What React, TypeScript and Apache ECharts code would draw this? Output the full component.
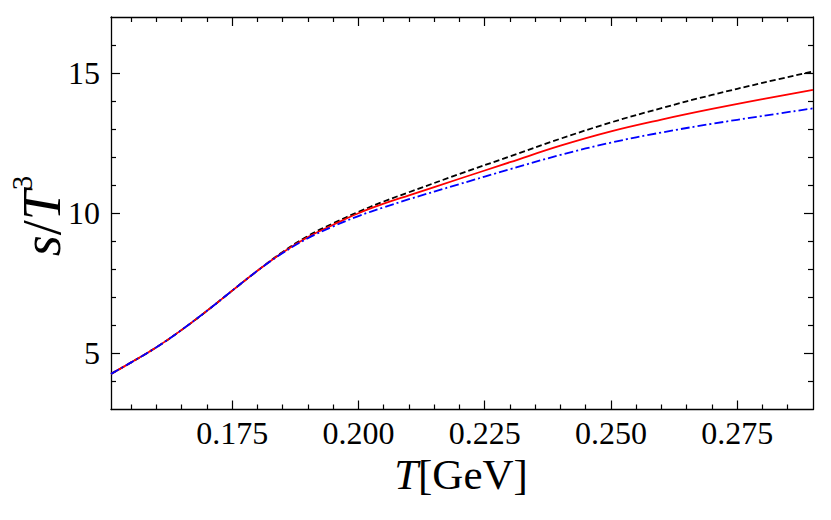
import React, { useEffect, useRef } from "react";
import * as echarts from "echarts";

// Temperature grid (GeV)
const temps = [0.151, 0.155, 0.16, 0.165, 0.17, 0.175, 0.18, 0.185, 0.19, 0.195, 0.2, 0.205, 0.21, 0.22, 0.23, 0.24, 0.25, 0.26, 0.27, 0.28, 0.29];
// s/T^3 curves
const blackDashed = [4.27, 4.68, 5.22, 5.84, 6.52, 7.24, 7.95, 8.62, 9.19, 9.64, 10.05, 10.42, 10.75, 11.4, 12.03, 12.66, 13.24, 13.75, 14.22, 14.65, 15.06];
const redSolid = [4.27, 4.68, 5.22, 5.84, 6.52, 7.24, 7.95, 8.6, 9.15, 9.59, 10.0, 10.34, 10.64, 11.23, 11.82, 12.41, 12.92, 13.34, 13.72, 14.07, 14.4];
const blueDashDot = [4.27, 4.68, 5.22, 5.84, 6.52, 7.24, 7.95, 8.58, 9.11, 9.53, 9.9, 10.21, 10.5, 11.04, 11.57, 12.08, 12.52, 12.88, 13.19, 13.47, 13.74];

// Ticks
const xMajorTicks = [0.175, 0.2, 0.225, 0.25, 0.275];
const xMinorTicks = [0.155, 0.16, 0.165, 0.17, 0.18, 0.185, 0.19, 0.195, 0.205, 0.21, 0.215, 0.22, 0.23, 0.235, 0.24, 0.245, 0.255, 0.26, 0.265, 0.27, 0.28, 0.285];
const yMajorTicks = [5, 10, 15];
const yMinorTicks = [4, 6, 7, 8, 9, 11, 12, 13, 14, 16];

const X_MIN = 0.151;
const X_MAX = 0.29;
const Y_MIN = 3;
const Y_MAX = 17;

const FONT = "'Liberation Serif', 'DejaVu Serif', serif";

export default function App() {
  const ref = useRef<HTMLDivElement>(null);

  useEffect(() => {
    if (!ref.current) return;
    const chart = echarts.init(ref.current, undefined, { renderer: "svg" });

    const axisLine = { show: true, onZero: false, lineStyle: { color: "#000", width: 1.3 } };

    const mkX = (position: string, ticks: number[], len: number, showLine: boolean, showLabels: boolean) => ({
      type: "value",
      position,
      min: X_MIN,
      max: X_MAX,
      axisLine: showLine ? axisLine : { show: false },
      axisTick: { show: true, inside: true, length: len, customValues: ticks, lineStyle: { color: "#000", width: 1.2 } },
      axisLabel: showLabels
        ? { show: true, customValues: ticks, margin: 7, color: "#000", fontSize: 32, fontFamily: FONT, formatter: (v: number) => v.toFixed(3) }
        : { show: false },
      splitLine: { show: false },
    });

    const mkY = (position: string, ticks: number[], len: number, showLine: boolean, showLabels: boolean) => ({
      type: "value",
      position,
      min: Y_MIN,
      max: Y_MAX,
      axisLine: showLine ? axisLine : { show: false },
      axisTick: { show: true, inside: true, length: len, customValues: ticks, lineStyle: { color: "#000", width: 1.2 } },
      axisLabel: showLabels
        ? { show: true, customValues: ticks, margin: 11, color: "#000", fontSize: 32, fontFamily: FONT, formatter: (v: number) => String(v) }
        : { show: false },
      splitLine: { show: false },
    });

    const pairs = (ys: number[]) => temps.map((t, i) => [t, ys[i]]);

    chart.setOption({
      animation: false,
      backgroundColor: "#fff",
      grid: { left: 111, top: 17, right: 18, bottom: 110.5, containLabel: false },
      xAxis: [
        mkX("bottom", xMajorTicks, 9, true, true),
        mkX("bottom", xMinorTicks, 5, false, false),
        mkX("top", xMajorTicks, 9, true, false),
        mkX("top", xMinorTicks, 5, false, false),
      ],
      yAxis: [
        mkY("left", yMajorTicks, 9, true, true),
        mkY("left", yMinorTicks, 5, false, false),
        mkY("right", yMajorTicks, 9, true, false),
        mkY("right", yMinorTicks, 5, false, false),
      ],
      series: [
        {
          type: "line",
          data: pairs(blackDashed),
          showSymbol: false,
          smooth: 0.4,
          lineStyle: { color: "#000", width: 1.8, type: [6, 3] },
          z: 2,
        },
        {
          type: "line",
          data: pairs(redSolid),
          showSymbol: false,
          smooth: 0.4,
          lineStyle: { color: "#ff0000", width: 1.8, type: "solid" },
          z: 3,
        },
        {
          type: "line",
          data: pairs(blueDashDot),
          showSymbol: false,
          smooth: 0.4,
          lineStyle: { color: "#0000ff", width: 1.8, type: [9, 3, 2, 3] },
          z: 4,
        },
      ],
      graphic: [
        {
          type: "text",
          x: 461,
          y: 474,
          style: {
            text: "{i|T}{r|[GeV]}",
            align: "center",
            verticalAlign: "middle",
            fill: "#000",
            rich: {
              i: { fontFamily: FONT, fontStyle: "italic", fontSize: 43, fill: "#000" },
              r: { fontFamily: FONT, fontSize: 43, fill: "#000" },
            },
          },
        },
        {
          type: "text",
          x: 38,
          y: 216,
          rotation: Math.PI / 2,
          style: {
            text: "{i|s}{r|/}{i|T}{s|3}",
            align: "center",
            verticalAlign: "middle",
            fill: "#000",
            rich: {
              i: { fontFamily: FONT, fontStyle: "italic", fontSize: 54, lineHeight: 62, verticalAlign: "bottom", fill: "#000" },
              r: { fontFamily: FONT, fontSize: 54, lineHeight: 62, verticalAlign: "bottom", fill: "#000" },
              s: { fontFamily: FONT, fontSize: 29, lineHeight: 29, verticalAlign: "top", fill: "#000" },
            },
          },
        },
      ],
    });

    return () => chart.dispose();
  }, []);

  return (
    <div
      ref={ref}
      style={{ position: "fixed", left: 0, top: 0, width: 831, height: 520, background: "#fff" }}
    />
  );
}
